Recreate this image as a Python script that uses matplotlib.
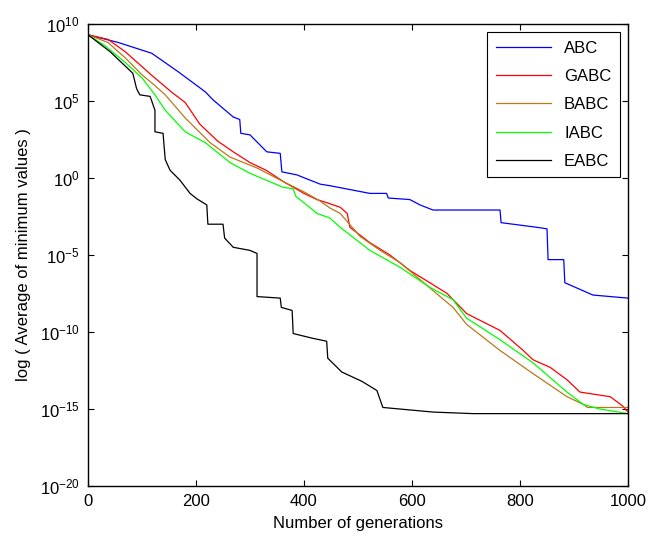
import numpy as np
import matplotlib
matplotlib.use("Agg")
import matplotlib.pyplot as plt
from matplotlib.ticker import FixedLocator, FuncFormatter, NullLocator

plt.rcParams['font.family'] = ['Liberation Sans', 'DejaVu Sans']
plt.rcParams['mathtext.default'] = 'regular'

# generation, log10(average minimum value)
abc_gen = [0, 56, 118, 167, 217, 232, 269, 281, 283, 300, 331, 356, 359, 387, 430, 448,
           522, 553, 556, 596, 615, 639, 763, 765, 831, 850, 852, 881, 883, 935, 1000]
abc_log = [9.3, 8.8, 8.1, 6.9, 5.6, 5.06, 3.96, 3.8, 2.9, 2.8, 1.7, 1.6, 0.4, 0.2, -0.4, -0.5,
           -1.0, -1.0, -1.3, -1.4, -1.75, -2.08, -2.08, -2.9, -3.2, -3.3, -5.3, -5.3, -6.8, -7.6, -7.8]

gabc_gen = [0, 37, 69, 117, 154, 180, 207, 240, 269, 300, 330, 363, 400, 424, 442, 467, 480,
            485, 522, 559, 596, 633, 665, 701, 763, 806, 824, 856, 887, 911, 948, 967, 990, 1000]
gabc_log = [9.3, 9.0, 8.2, 6.7, 5.6, 4.9, 3.5, 2.4, 1.7, 1.0, 0.5, -0.26, -1.0, -1.4, -1.6, -1.9, -2.3,
            -3.2, -4.2, -5.0, -6.0, -6.8, -7.5, -8.8, -9.9, -11.2, -11.8, -12.3, -13.1, -13.9, -14.1, -14.2, -14.8, -15.2]

babc_gen = [0, 37, 69, 100, 124, 143, 180, 200, 226, 263, 313, 363, 400, 430, 448, 467, 504,
            541, 578, 615, 652, 676, 701, 763, 824, 887, 917, 925, 1000]
babc_log = [9.3, 8.8, 7.8, 6.7, 6.0, 5.4, 3.9, 3.2, 2.3, 1.36, 0.65, -0.26, -0.9, -1.5, -1.95, -2.3, -3.8,
            -4.7, -5.5, -6.6, -7.7, -8.4, -9.5, -11.2, -12.7, -14.2, -14.7, -14.9, -14.9]

iabc_gen = [0, 31, 69, 100, 124, 143, 180, 217, 263, 300, 361, 380, 385, 405, 424, 448, 467,
            522, 578, 633, 676, 701, 763, 824, 887, 917, 948, 1000]
iabc_log = [9.3, 8.6, 7.5, 6.5, 5.4, 4.4, 3.0, 2.3, 1.0, 0.3, -0.6, -0.7, -1.2, -1.75, -2.3, -2.6, -3.2,
            -4.7, -5.8, -7.1, -7.9, -9.1, -10.5, -12.0, -13.9, -14.7, -15.0, -15.3]

eabc_gen = [0, 41, 83, 90, 96, 115, 124, 124, 139, 143, 152, 170, 189, 202, 220, 222, 250, 253,
            269, 300, 313, 313, 356, 358, 378, 380, 415, 442, 444, 470, 507, 535, 546, 639, 713, 1000]
eabc_log = [9.3, 8.2, 6.8, 5.8, 5.4, 5.3, 4.4, 3.0, 2.9, 1.2, 0.5, -0.13, -1.0, -1.36, -1.75, -3.0, -3.0, -3.9,
            -4.5, -4.7, -4.9, -7.7, -7.8, -8.4, -8.6, -10.1, -10.4, -10.6, -11.7, -12.6, -13.2, -13.8, -14.9, -15.2, -15.3, -15.3]

series = [
    ("ABC", abc_gen, abc_log, "#0000ff"),
    ("GABC", gabc_gen, gabc_log, "#ff0000"),
    ("BABC", babc_gen, babc_log, "#b8791a"),
    ("IABC", iabc_gen, iabc_log, "#00ff00"),
    ("EABC", eabc_gen, eabc_log, "#000000"),
]

fig = plt.figure(figsize=(6.63, 5.38), dpi=100)
ax = fig.add_axes([88 / 663, 52 / 538, 540 / 663, 462 / 538])

for name, gen, lg, col in series:
    ax.plot(gen, 10.0 ** np.array(lg), color=col, lw=0.9, label=name)

ax.set_yscale("log")
ax.set_xlim(0, 1000)
ax.set_ylim(1e-20, 1e10)
ax.set_xticks([0, 200, 400, 600, 800, 1000])
ax.yaxis.set_major_locator(FixedLocator([10.0 ** k for k in range(-20, 11, 5)]))
ax.yaxis.set_minor_locator(NullLocator())
ax.yaxis.set_major_formatter(FuncFormatter(lambda v, p: r"$10^{%d}$" % round(np.log10(v))))
ax.tick_params(direction="in", top=True, right=True, length=4, width=0.8, labelsize=12, pad=6)
for s in ax.spines.values():
    s.set_linewidth(1.0)

ax.set_xlabel("Number of generations", fontsize=12, labelpad=5)
ax.set_ylabel("log ( Average of minimum values )", fontsize=12, labelpad=6)

leg = ax.legend(loc="upper right", fontsize=12, fancybox=False, framealpha=1,
                edgecolor="black", handlelength=3.3, borderpad=0.5, labelspacing=0.8,
                borderaxespad=0.5)
leg.get_frame().set_linewidth(0.8)

fig.savefig("out.png", dpi=100)
